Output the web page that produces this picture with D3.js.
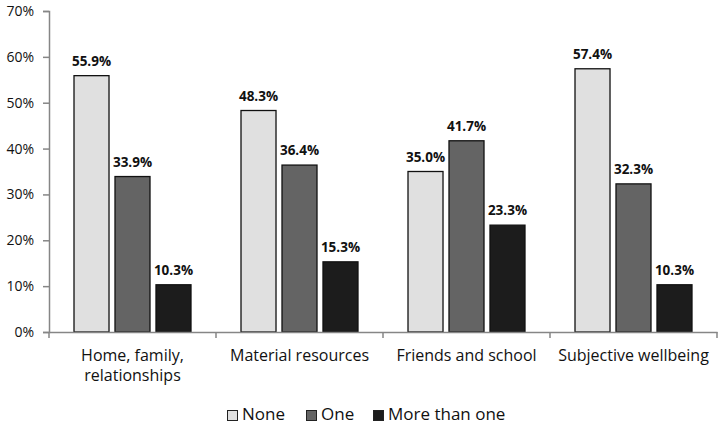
<!DOCTYPE html>
<html>
<head>
<meta charset="utf-8">
<script src="https://cdn.jsdelivr.net/npm/d3@7"></script>
<style>
  html, body { margin: 0; padding: 0; background: #fff; }
  svg { display: block; }
</style>
</head>
<body>
<svg id="chart" width="724" height="424"></svg>
<script>
const categories = [["Home, family,", "relationships"], ["Material resources"], ["Friends and school"], ["Subjective wellbeing"]];
const seriesNames = ["None", "One", "More than one"];
const noneValues = [55.9, 48.3, 35.0, 57.4];
const oneValues = [33.9, 36.4, 41.7, 32.3];
const moreValues = [10.3, 15.3, 23.3, 10.3];
const yTicks = [0, 10, 20, 30, 40, 50, 60, 70];
const colors = ["#e0e0e0", "#646464", "#1c1c1c"];

const seriesValues = [noneValues, oneValues, moreValues];
const catKeys = categories.map(c => c.join(" "));
const FONT = "'Open Sans', sans-serif";

const svg = d3.select("#chart");
const x0 = d3.scaleBand().domain(catKeys).range([49, 717]).paddingInner(0).paddingOuter(0);
const x1 = d3.scaleBand().domain(seriesNames).range([0, x0.bandwidth()]).paddingInner(0.146).paddingOuter(0.61);
const y = d3.scaleLinear().domain([0, 70]).range([332, 11]);

// y axis
const yAxis = svg.append("g").attr("transform", "translate(49,0)")
  .call(d3.axisLeft(y).tickValues(yTicks).tickSize(6).tickPadding(9).tickFormat(d => d + "%"));
yAxis.select(".domain").attr("stroke", "#868686").attr("stroke-width", 1.5);
yAxis.selectAll(".tick line").attr("stroke", "#868686").attr("stroke-width", 1.5);
yAxis.selectAll(".tick text").attr("font-family", FONT).attr("font-size", 14).attr("fill", "#111");

// bars
const groups = svg.append("g").selectAll("g").data(catKeys).join("g")
  .attr("transform", d => `translate(${x0(d)},0)`);
groups.each(function(cat, ci) {
  const g = d3.select(this);
  seriesNames.forEach((s, si) => {
    const v = seriesValues[si][ci];
    g.append("rect")
      .attr("x", x1(s)).attr("y", y(v))
      .attr("width", x1.bandwidth()).attr("height", y(0) - y(v))
      .attr("fill", colors[si]).attr("stroke", "#111").attr("stroke-width", 1.3);
    g.append("text")
      .attr("x", x1(s) + x1.bandwidth() / 2).attr("y", y(v) - 10)
      .attr("text-anchor", "middle")
      .attr("font-family", FONT).attr("font-weight", "bold").attr("font-size", 13.5)
      .attr("fill", "#111")
      .text(v.toFixed(1) + "%");
  });
});

// x axis
const xAxis = svg.append("g").attr("transform", "translate(0,332)")
  .call(d3.axisBottom(x0).tickSize(0).tickFormat(""));
xAxis.select(".domain").attr("stroke", "#868686").attr("stroke-width", 1.5);
xAxis.selectAll(".tick").remove();
const bounds = [49].concat(catKeys.map(k => x0(k) + x0.bandwidth()));
xAxis.selectAll("line.cat").data(bounds).join("line").attr("class", "cat")
  .attr("x1", d => d).attr("x2", d => d).attr("y1", 0).attr("y2", 6)
  .attr("stroke", "#868686").attr("stroke-width", 1.5);

// category labels
const labels = svg.append("g").selectAll("text").data(categories).join("text")
  .attr("x", (d, i) => x0(catKeys[i]) + x0.bandwidth() / 2)
  .attr("y", 361)
  .attr("text-anchor", "middle")
  .attr("font-family", FONT).attr("font-size", 16).attr("fill", "#111");
labels.each(function(lines) {
  const t = d3.select(this);
  lines.forEach((l, i) => {
    t.append("tspan").attr("x", t.attr("x")).attr("dy", i === 0 ? 0 : 20).text(l);
  });
});

// legend
const legendX = [227, 306, 373];
const legend = svg.append("g");
seriesNames.forEach((s, i) => {
  legend.append("rect").attr("x", legendX[i] + 0.5).attr("y", 410.5).attr("width", 10).attr("height", 10)
    .attr("fill", colors[i]).attr("stroke", "#222").attr("stroke-width", 1);
  legend.append("text").attr("x", legendX[i] + 15).attr("y", 420)
    .attr("font-family", FONT).attr("font-size", 17).attr("fill", "#111").text(s);
});
</script>
</body>
</html>
